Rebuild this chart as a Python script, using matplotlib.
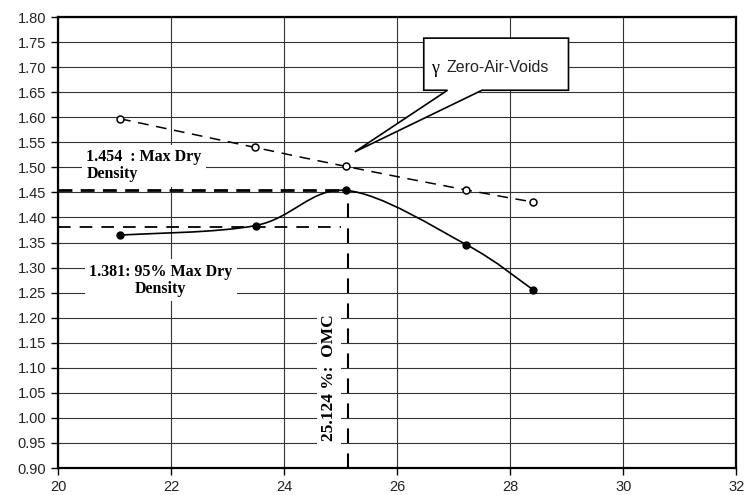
import numpy as np
import matplotlib.pyplot as plt
from matplotlib.path import Path
from matplotlib.patches import PathPatch, Polygon

# moisture content (%) and dry density
w_compact = [21.10, 23.50, 25.10, 27.22, 28.40]
rho_compact = [1.365, 1.384, 1.454, 1.346, 1.256]
w_zav = [21.10, 23.48, 25.09, 27.22, 28.40]
rho_zav = [1.597, 1.540, 1.502, 1.455, 1.431]

max_dry = 1.454
dry95 = 1.381
omc = 25.124

yticks = np.round(np.arange(0.90, 1.801, 0.05), 2)
xticks = [20, 22, 24, 26, 28, 30, 32]


def smooth_path(xs, ys, t=1 / 6):
    # catmull-rom style bezier through the points (like an excel smoothed line)
    pts = list(zip(xs, ys))
    verts = [pts[0]]
    codes = [Path.MOVETO]
    n = len(pts)
    for i in range(n - 1):
        p0 = pts[i - 1] if i > 0 else pts[i]
        p1 = pts[i]
        p2 = pts[i + 1]
        p3 = pts[i + 2] if i + 2 < n else pts[i + 1]
        c1 = (p1[0] + (p2[0] - p0[0]) * t, p1[1] + (p2[1] - p0[1]) * t)
        c2 = (p2[0] - (p3[0] - p1[0]) * t, p2[1] - (p3[1] - p1[1]) * t)
        verts += [c1, c2, p2]
        codes += [Path.CURVE4] * 3
    return Path(verts, codes)


plt.rcParams['font.family'] = ['Liberation Sans', 'DejaVu Sans']
fig = plt.figure(figsize=(7.48, 4.95), dpi=100)
ax = fig.add_axes([0.0775, 0.0545, 0.907, 0.911])

ax.set_xlim(20, 32)
ax.set_ylim(0.90, 1.80)
ax.set_xticks(xticks)
ax.set_yticks(yticks)
ax.set_yticklabels(['%.2f' % v for v in yticks])
ax.tick_params(labelsize=10.5, length=5, width=1, color='black', labelcolor='#222222')
ax.grid(True, color='#333333', linewidth=0.8)
ax.set_axisbelow(True)
for s in ax.spines.values():
    s.set_linewidth(1.6)

# compaction curve (smoothed)
ax.add_patch(PathPatch(smooth_path(w_compact, rho_compact), fill=False,
                       edgecolor='black', linewidth=1.2, zorder=3))
ax.plot(w_compact, rho_compact, 'o', color='black', markersize=5, zorder=4)

# zero air voids line
ax.add_patch(PathPatch(smooth_path(w_zav, rho_zav), fill=False, edgecolor='black',
                       linewidth=1.1, linestyle=(0, (7, 5)), zorder=3))
ax.plot(w_zav, rho_zav, 'o', markerfacecolor='white', markeredgecolor='black',
        markersize=5, markeredgewidth=1.1, zorder=4)

# reference lines
ax.plot([20, omc], [max_dry, max_dry], color='black', linewidth=2,
        linestyle=(0, (5, 3)), zorder=3)
ax.plot([20, 25.0], [dry95, dry95], color='black', linewidth=1.3,
        linestyle=(0, (7, 5)), zorder=3)
ax.plot([omc, omc], [0.90, max_dry], color='black', linewidth=1.5,
        linestyle=(0, (7, 5)), zorder=3)

serif = ['Liberation Serif', 'DejaVu Serif']
box = dict(facecolor='white', edgecolor='none', pad=3)
ax.text(20.5, 1.503, '1.454  : Max Dry\nDensity', family=serif, fontweight='bold',
        fontsize=11.5, ha='left', va='center', linespacing=1.1, bbox=box, zorder=5)
ax.text(21.82, 1.275, '1.381: 95% Max Dry\nDensity', family=serif, fontweight='bold',
        fontsize=11.5, ha='center', va='center', linespacing=1.1, bbox=box, zorder=5)
ax.text(24.79, 1.08, '25.124 %:  OMC', family=serif, fontweight='bold',
        fontsize=12.5, rotation=90, ha='center', va='center', bbox=box, zorder=5)

# callout for zero air voids
callout = [(26.47, 1.758), (29.03, 1.758), (29.03, 1.654), (27.50, 1.654),
           (25.25, 1.531), (26.89, 1.654), (26.47, 1.654)]
ax.add_patch(Polygon(callout, closed=True, facecolor='white', edgecolor='black',
                     linewidth=1.2, zorder=6))
ax.text(26.6, 1.697, 'γ', family=serif, fontsize=13, ha='left', va='center', zorder=7)
ax.text(26.88, 1.699, 'Zero-Air-Voids', fontsize=11.5, ha='left', va='center',
        color='#222222', zorder=7)

fig.savefig('out.png', dpi=100)
